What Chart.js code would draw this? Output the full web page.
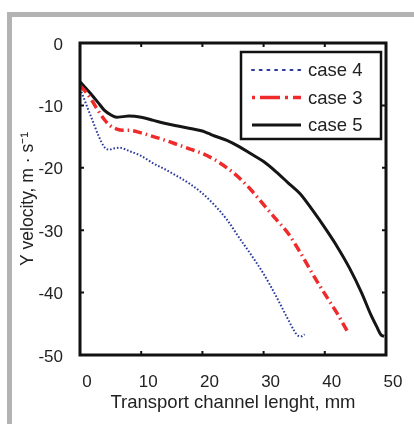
<!DOCTYPE html>
<html>
<head>
<meta charset="utf-8">
<script src="https://cdn.jsdelivr.net/npm/chart.js@4/dist/chart.umd.min.js"></script>
<style>
  html, body { margin: 0; padding: 0; background: #fff; overflow: hidden; }
  #wrap { position: relative; width: 414px; height: 424px; }
  .frame {
    position: absolute; left: 7px; top: 12px; width: 600px; height: 600px;
    border-left: 5px solid #b3b3b3; border-top: 5px solid #b3b3b3;
  }
  canvas { position: absolute; left: 0; top: 0; }
</style>
</head>
<body>
<div id="wrap">
  <div class="frame"></div>
  <canvas id="velocityChart" width="414" height="424"></canvas>
</div>
<script>
// valores (mm, m/s)
const case4X = [0, 0.5, 1, 2, 3, 4, 4.8, 5.5, 6.5, 8, 10, 12, 14, 16, 18, 20, 22, 24, 26, 28, 30, 32, 33, 34, 35, 35.6, 36.2, 36.7];
const case4Y = [-7.3, -8.5, -9.8, -12.3, -14.8, -16.7, -17.1, -16.9, -16.8, -17.3, -18.1, -19.3, -20.3, -21.4, -22.6, -24.1, -26.0, -28.3, -31.2, -34.0, -37.0, -40.5, -42.4, -44.3, -46.1, -46.9, -47.0, -46.7];

const case3X = [0, 1, 2, 3, 4, 5, 6, 7, 8, 10, 12, 14, 16, 18, 20, 22, 24, 26, 28, 30, 32, 34, 36, 38, 40, 42, 43, 43.8];
const case3Y = [-6.9, -7.9, -9.3, -10.9, -12.3, -13.3, -13.8, -14.0, -14.0, -14.4, -15.0, -15.6, -16.3, -17.0, -17.7, -18.7, -20.0, -21.6, -23.6, -25.9, -28.2, -30.5, -33.6, -37.0, -40.2, -43.3, -45.0, -46.4];

const case5X = [0, 1, 2, 3, 4, 5, 6, 7, 8, 10, 12, 14, 16, 18, 20, 21, 22, 24, 26, 28, 30, 32, 34, 36, 38, 40, 42, 44, 46, 47.5, 48.5, 49.2, 49.7];
const case5Y = [-6.2, -7.3, -8.4, -9.6, -10.8, -11.5, -11.9, -11.8, -11.7, -11.9, -12.4, -12.9, -13.3, -13.7, -14.1, -14.5, -14.9, -15.6, -16.6, -17.8, -19.0, -20.6, -22.4, -24.2, -26.8, -29.6, -32.6, -36.0, -40.0, -43.5, -45.5, -46.8, -47.0];

const seriesLabels = ['case 4', 'case 3', 'case 5'];
const xTicks = [0, 10, 20, 30, 40, 50];
const yTicks = [0, -10, -20, -30, -40, -50];

const FONT = 'Liberation Sans, Arial, sans-serif';
const TEXT = '#222';

function toPoints(xs, ys) {
  return xs.map((x, i) => ({ x: x, y: ys[i] }));
}

// caixa estilo MATLAB: moldura, ticks para dentro e legenda
const matlabBox = {
  id: 'matlabBox',
  afterDatasetsDraw(chart) {
    const { ctx, chartArea: a, scales } = chart;
    const xs = scales.x, ys = scales.y;
    ctx.save();
    ctx.strokeStyle = '#111';
    ctx.lineWidth = 2;
    xTicks.forEach(v => {
      const px = xs.getPixelForValue(v);
      ctx.beginPath();
      ctx.moveTo(px, a.bottom); ctx.lineTo(px, a.bottom - 4);
      ctx.moveTo(px, a.top); ctx.lineTo(px, a.top + 4);
      ctx.stroke();
    });
    yTicks.forEach(v => {
      const py = ys.getPixelForValue(v);
      ctx.beginPath();
      ctx.moveTo(a.left, py); ctx.lineTo(a.left + 4, py);
      ctx.moveTo(a.right, py); ctx.lineTo(a.right - 4, py);
      ctx.stroke();
    });
    ctx.lineWidth = 3;
    ctx.strokeRect(a.left, a.top, a.right - a.left, a.bottom - a.top);

    // legenda
    const lx = a.right - 145, ly = a.top + 9, lw = 140, lh = 87;
    ctx.fillStyle = '#fff';
    ctx.fillRect(lx, ly, lw, lh);
    ctx.lineWidth = 2.5;
    ctx.strokeRect(lx, ly, lw, lh);
    const legendDash = [[2, 5.7], [3, 5, 20, 5], []];
    chart.data.datasets.forEach((ds, i) => {
      const cy = ly + 18 + i * 27.5;
      ctx.save();
      ctx.strokeStyle = ds.borderColor;
      ctx.lineWidth = ds.borderWidth;
      ctx.lineCap = i === 0 ? 'round' : 'butt';
      ctx.setLineDash(legendDash[i]);
      ctx.beginPath();
      ctx.moveTo(lx + 11, cy); ctx.lineTo(lx + 60, cy);
      ctx.stroke();
      ctx.restore();
      ctx.fillStyle = TEXT;
      ctx.font = '18.5px ' + FONT;
      ctx.textBaseline = 'middle';
      ctx.fillText(seriesLabels[i], lx + 67, cy + 1);
    });
    ctx.restore();
  }
};

function initVelocityChart() {
  const ctx = document.getElementById('velocityChart');
  new Chart(ctx, {
    type: 'line',
    data: {
      datasets: [
        {
          label: seriesLabels[0],
          data: toPoints(case4X, case4Y),
          borderColor: '#2a3a9e',
          borderWidth: 2,
          borderDash: [1.6, 1.9],
          pointRadius: 0,
          cubicInterpolationMode: 'monotone'
        },
        {
          label: seriesLabels[1],
          data: toPoints(case3X, case3Y),
          borderColor: '#ee2a2a',
          borderWidth: 3.5,
          borderDash: [9, 4, 1.5, 4],
          pointRadius: 0,
          cubicInterpolationMode: 'monotone'
        },
        {
          label: seriesLabels[2],
          data: toPoints(case5X, case5Y),
          borderColor: '#151515',
          borderWidth: 3,
          pointRadius: 0,
          cubicInterpolationMode: 'monotone'
        }
      ]
    },
    options: {
      responsive: false,
      animation: false,
      layout: { padding: { left: 14, top: 43, right: 28, bottom: 10 } },
      plugins: {
        legend: { display: false },
        tooltip: { enabled: false }
      },
      scales: {
        x: {
          type: 'linear',
          min: 0,
          max: 50,
          grid: { display: false },
          border: { display: false },
          afterFit: s => { s.height = 59; },
          afterBuildTicks: s => { s.ticks = xTicks.map(v => ({ value: v })); },
          ticks: {
            color: TEXT,
            padding: 9,
            labelOffset: 7,
            maxRotation: 0,
            font: { family: FONT, size: 17 }
          },
          title: {
            display: true,
            text: 'Transport channel lenght, mm',
            color: TEXT,
            padding: { top: 2, bottom: 0 },
            font: { family: FONT, size: 18.5 }
          }
        },
        y: {
          type: 'linear',
          min: -50,
          max: 0,
          grid: { display: false },
          border: { display: false },
          afterFit: s => { s.width = 66; },
          afterBuildTicks: s => { s.ticks = yTicks.map(v => ({ value: v })); },
          ticks: {
            color: TEXT,
            padding: 9,
            labelOffset: 2,
            font: { family: FONT, size: 17 }
          },
          title: {
            display: true,
            text: 'Y velocity, m · s⁻¹',
            color: TEXT,
            padding: { top: 4, bottom: 0 },
            font: { family: FONT, size: 17.5 }
          }
        }
      }
    },
    plugins: [matlabBox]
  });
}

document.addEventListener('DOMContentLoaded', initVelocityChart);
</script>
</body>
</html>
